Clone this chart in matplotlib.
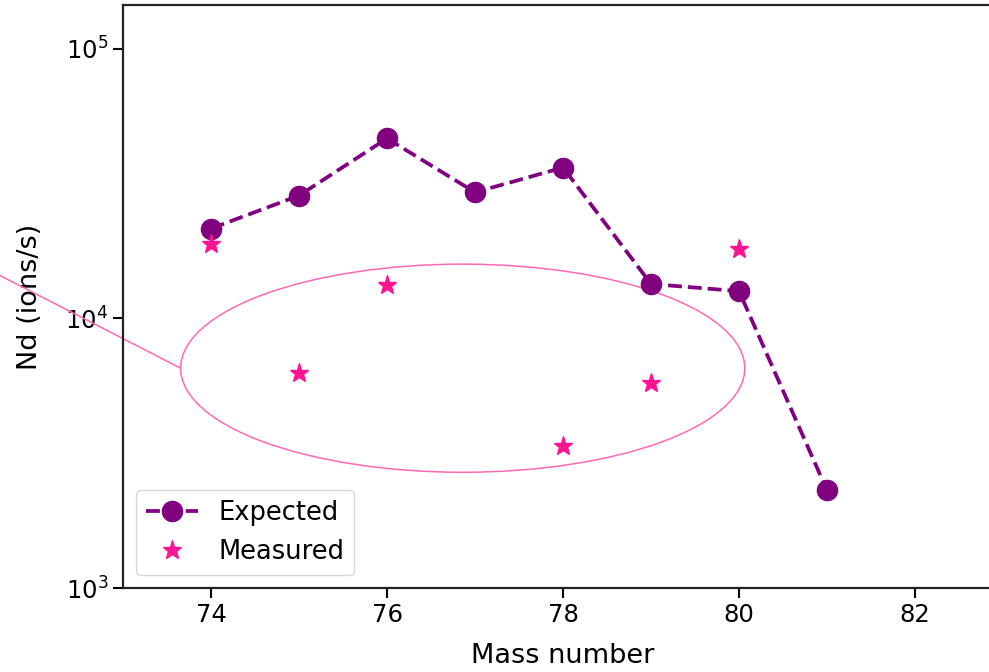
import matplotlib
matplotlib.use("Agg")
import matplotlib.pyplot as plt
from matplotlib.patches import Ellipse
from matplotlib.ticker import NullLocator

# isotope yields, Nd ions per second
mass_expected = [74, 75, 76, 77, 78, 79, 80, 81]
nd_expected = [21500, 28500, 46400, 29300, 36200, 13400, 12600, 2300]

mass_measured = [74, 75, 76, 78, 79, 80]
nd_measured = [18800, 6260, 13250, 3360, 5740, 18000]

fig = plt.figure(figsize=(9.89, 6.72), dpi=100)
ax = fig.add_axes([0.1244, 0.125, 0.8898, 0.8676])

ax.plot(mass_expected, nd_expected, "o--", color="purple",
        markersize=14.5, linewidth=2.7, label="Expected")
ax.plot(mass_measured, nd_measured, "*", color="deeppink",
        markersize=14, linestyle="none", label="Measured")

ax.set_yscale("log")
ax.set_xlim(73, 83)
ax.set_ylim(1e3, 1.45e5)
ax.set_xticks([74, 76, 78, 80, 82])
ax.yaxis.set_minor_locator(NullLocator())

ax.set_xlabel("Mass number", fontsize=19.5, labelpad=12)
ax.set_ylabel("Nd (ions/s)", fontsize=19.5, labelpad=16)
ax.tick_params(labelsize=17.5, length=7, width=1.5)
for s in ax.spines.values():
    s.set_linewidth(1.6)
    s.set_color("#222222")

# circle the low measured points and point away to a note
ax.add_patch(Ellipse((0.386, 0.377), 0.641, 0.357, transform=ax.transAxes,
                     fill=False, edgecolor="hotpink", linewidth=1.1))
ax.plot([0.0655, -0.367], [0.377, 0.712], color="hotpink", linewidth=1.1,
        transform=ax.transAxes, clip_on=False)

ax.legend(loc="lower left", fontsize=18.5)

fig.savefig("out.png", dpi=100)
